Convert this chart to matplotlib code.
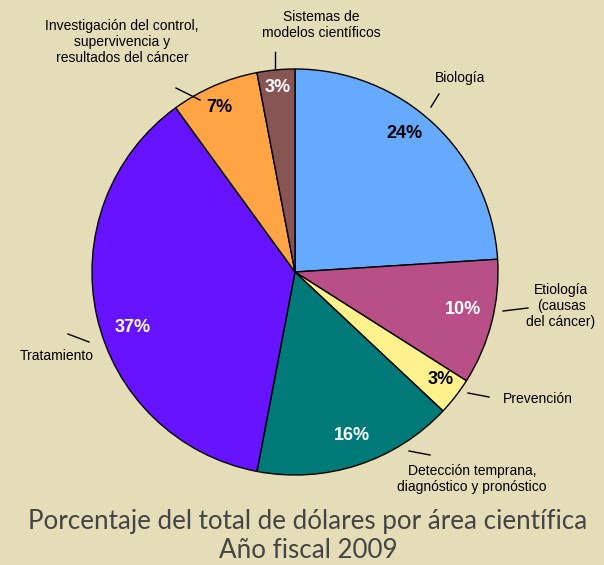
import matplotlib.pyplot as plt

# datos
areas = ["Biología", "Etiología", "Prevención", "Detección",
         "Tratamiento", "Investigación", "Sistemas"]
porcentajes = [24, 10, 3, 16, 37, 7, 3]
colores = ["#66AAFF", "#B84F87", "#FFF28C", "#007A78",
           "#6614FF", "#FFA545", "#885555"]
color_pct = ["black", "white", "black", "white", "white", "black", "white"]

# etiquetas exteriores (texto, posición en píxeles, línea)
etiquetas = [
    ("Biología", (460, 78), ((431, 107), (439, 94))),
    ("Etiología\n(causas\ndel cáncer)", (561, 306), ((503, 311), (528, 308))),
    ("Prevención", (538, 399), ((468, 393), (489, 397))),
    ("Detección temprana,\ndiagnóstico y pronóstico", (472, 479), ((409, 451), (430, 455))),
    ("Tratamiento", (57, 356), ((68, 334), (89, 342))),
    ("Investigación del control,\nsupervivencia y\nresultados del cáncer", (122, 42), ((176, 88), (200, 100))),
    ("Sistemas de\nmodelos científicos", (321, 25), ((275, 52), (275, 68))),
]
pos_pct = [(404, 133), (463, 310), (441, 380), (352, 436),
           (133, 328), (219, 108), (278, 87)]

W, H = 604, 565
fondo = "#E5DCB8"

def px(x, y):
    return x, H - y

fig = plt.figure(figsize=(W / 100, H / 100), dpi=100, facecolor=fondo)
ax = fig.add_axes([0, 0, 1, 1])
ax.set_facecolor(fondo)

ax.pie(porcentajes, colors=colores, startangle=90, counterclock=False,
       center=px(295, 272), radius=203,
       wedgeprops=dict(edgecolor="black", linewidth=1.0))

for v, (x, y), c in zip(porcentajes, pos_pct, color_pct):
    ax.text(*px(x, y), f"{v}%", color=c, fontsize=13, fontweight="bold",
            family="Liberation Sans", ha="center", va="center")

for txt, (x, y), ((x1, y1), (x2, y2)) in etiquetas:
    ax.text(*px(x, y), txt, fontsize=10, family="Liberation Sans",
            ha="center", va="center", linespacing=1.15)
    ax.plot([x1, x2], [H - y1, H - y2], color="black", lw=1.0)

ax.text(*px(308, 521), "Porcentaje del total de dólares por área científica",
        fontsize=18.7, family="Lato", color="#444444",
        ha="center", va="center")
ax.text(*px(308, 550), "Año fiscal 2009",
        fontsize=18.7, family="Lato", color="#444444",
        ha="center", va="center")

ax.set_xlim(0, W)
ax.set_ylim(0, H)
ax.set_aspect("equal")
ax.axis("off")

fig.savefig("out.png", dpi=100, facecolor=fondo)
